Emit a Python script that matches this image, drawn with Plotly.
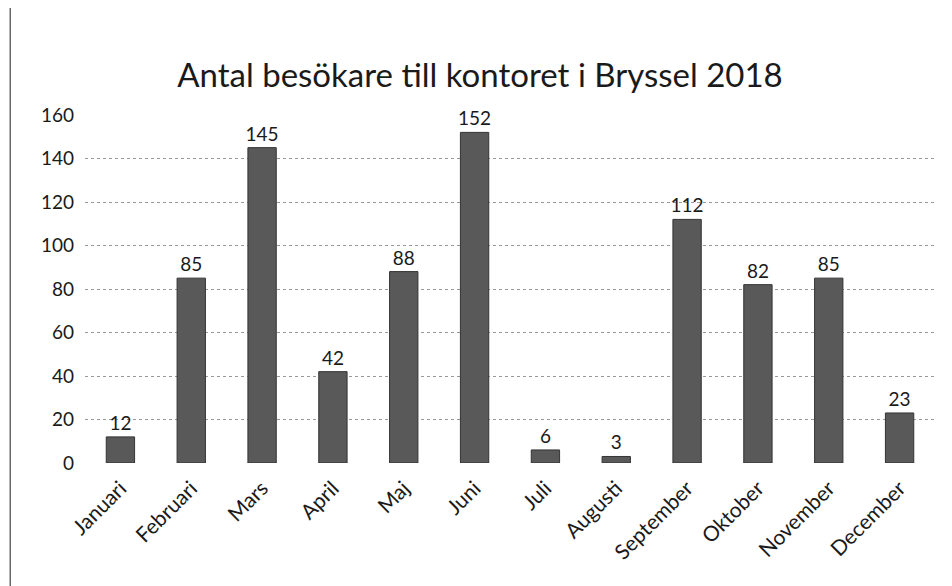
import plotly.graph_objects as go

months = ["Januari", "Februari", "Mars", "April", "Maj", "Juni", "Juli",
          "Augusti", "September", "Oktober", "November", "December"]
visitors = [12, 85, 145, 42, 88, 152, 6, 3, 112, 82, 85, 23]
y_ticks = [0, 20, 40, 60, 80, 100, 120, 140, 160]

W, H = 944, 578
fig = go.Figure(go.Bar(
    x=months, y=visitors,
    marker=dict(color="#595959", line=dict(color="#333", width=1)),
    width=0.4,
    text=[str(v) for v in visitors], textposition="outside",
    textfont=dict(size=19, color="#1a1a1a"),
    constraintext="none",
    cliponaxis=False,
))

fig.update_layout(
    width=W, height=H,
    paper_bgcolor="white", plot_bgcolor="white",
    margin=dict(l=77, r=W - 927, t=107, b=H - 455),
    title=dict(text="Antal besökare till kontoret i Bryssel 2018",
               x=0.5, xanchor="center", y=1 - 67 / H, yanchor="middle",
               font=dict(family="Lato, sans-serif", size=33, color="#1a1a1a")),
    font=dict(family="Lato, sans-serif", color="#1a1a1a"),
    showlegend=False,
    bargap=0.6,
    shapes=[dict(type="line", xref="paper", yref="paper",
                 x0=-0.088, x1=-0.088, y0=-1, y1=2,
                 line=dict(color="#444", width=1.2))],
)
fig.update_yaxes(range=[0, 160], tickvals=y_ticks, showgrid=True,
                 gridcolor="#999", griddash="dot", gridwidth=1,
                 tickfont=dict(size=19), zeroline=False, showline=False,
                 ticks="", ticklabelstandoff=10)
fig.update_xaxes(tickangle=-45, tickfont=dict(size=21), showline=False,
                 ticks="", ticklabelstandoff=8)

fig.write_html("out.html")
